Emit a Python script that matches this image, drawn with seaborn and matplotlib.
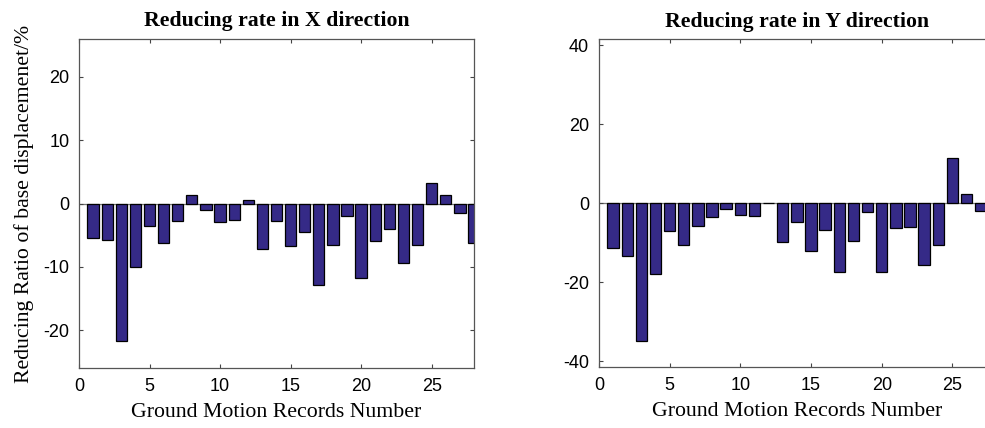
import matplotlib
matplotlib.use('Agg')
import matplotlib.pyplot as plt
import pandas as pd
import seaborn as sns

# reducing ratio of base displacement (%) per ground motion record
records_x = list(range(1, 29))
rate_x = [-5.4, -5.8, -21.7, -10.0, -3.6, -6.3, -2.8, 1.4, -1.0, -2.9,
          -2.6, 0.5, -7.2, -2.8, -6.7, -4.5, -12.9, -6.6, -2.0, -11.7,
          -6.0, -4.0, -9.4, -6.6, 3.3, 1.4, -1.5, -6.2]

records_y = list(range(1, 28))
rate_y = [-11.4, -13.3, -34.8, -17.9, -7.0, -10.5, -5.9, -3.5, -1.4, -2.9,
          -3.2, -0.1, -9.8, -4.7, -12.1, -6.7, -17.5, -9.6, -2.2, -17.5,
          -6.2, -6.1, -15.6, -10.5, 11.4, 2.4, -2.1]

xticks = [0, 5, 10, 15, 20, 25]
yticks_x = [-20, -10, 0, 10, 20]
yticks_y = [-40, -20, 0, 20, 40]

titles = ['Reducing rate in X direction', 'Reducing rate in Y direction']
xlabel = 'Ground Motion Records Number'
ylabel = 'Reducing Ratio of base displacemenet/%'

bar_color = '#352A87'

sns.set_style('ticks')
plt.rcParams['font.family'] = ['Liberation Sans', 'DejaVu Sans']
plt.rcParams['axes.unicode_minus'] = False
plt.rcParams['text.color'] = 'black'
plt.rcParams['axes.labelcolor'] = 'black'
plt.rcParams['xtick.labelcolor'] = 'black'
plt.rcParams['ytick.labelcolor'] = 'black'

fig = plt.figure(figsize=(9.85, 4.28), dpi=100)
ax1 = fig.add_axes([0.0802, 0.140, 0.401, 0.769])
ax2 = fig.add_axes([0.608, 0.1425, 0.402, 0.766])

df_x = pd.DataFrame({'record': records_x, 'rate': rate_x})
df_y = pd.DataFrame({'record': records_y, 'rate': rate_y})

panels = [(ax1, df_x, yticks_x, (-26, 26)), (ax2, df_y, yticks_y, (-41.5, 41.5))]

for i, (ax, df, yt, ylim) in enumerate(panels):
    sns.barplot(data=df, x='record', y='rate', native_scale=True, color=bar_color,
                saturation=1, edgecolor='black', linewidth=0.9, width=0.8, ax=ax)
    ax.axhline(0, color='#777777', lw=0.9, zorder=0.5)
    ax.set_xlim(0, 28)
    ax.set_ylim(*ylim)
    ax.set_xticks(xticks)
    ax.set_yticks(yt)
    ax.tick_params(direction='in', top=True, right=True, length=3, width=0.8,
                   color='#444444', labelsize=13, pad=7)
    for sp in ax.spines.values():
        sp.set_visible(True)
        sp.set_color('#555555')
        sp.set_linewidth(0.9)
    ax.set_title(titles[i], family='Liberation Serif', fontweight='bold',
                 fontsize=15.7, pad=9, color='black')
    ax.set_xlabel(xlabel, family='Liberation Serif', fontsize=15.7, labelpad=6)
    if i == 0:
        ax.set_ylabel(ylabel, family='Liberation Serif', fontsize=15.7, labelpad=7)
    else:
        ax.set_ylabel('')

fig.savefig('out.png', dpi=100)
